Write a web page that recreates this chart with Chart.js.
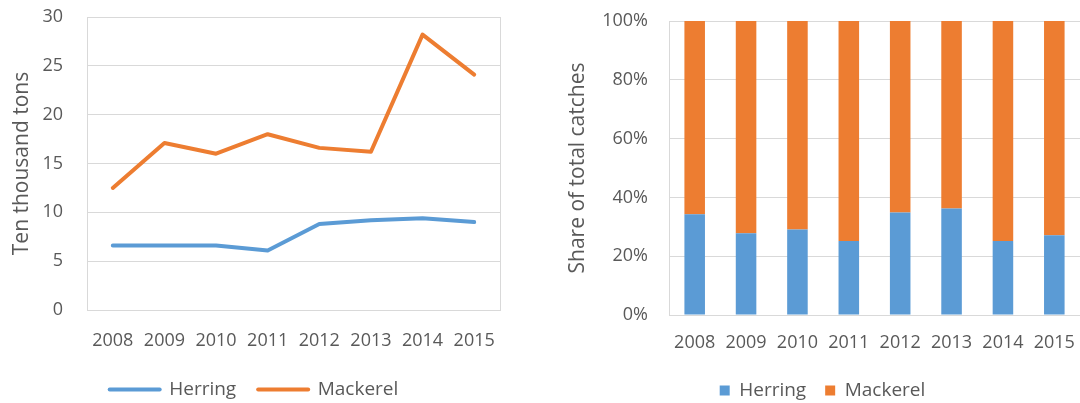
<!DOCTYPE html>
<html>
<head>
<meta charset="utf-8">
<script src="https://cdn.jsdelivr.net/npm/chart.js@4"></script>
<style>
  body { margin: 0; background: #fff; overflow: hidden; width: 1080px; height: 403px; position: relative; }
  #lineChart { position: absolute; left: 0; top: 0; }
  #shareChart { position: absolute; left: 540px; top: 0; }
</style>
</head>
<body>
<canvas id="lineChart" width="540" height="403"></canvas>
<canvas id="shareChart" width="540" height="403"></canvas>
<script>
// data
const years = ['2008', '2009', '2010', '2011', '2012', '2013', '2014', '2015'];
const herringCatch = [6.6, 6.6, 6.6, 6.1, 8.8, 9.2, 9.4, 9.0];
const mackerelCatch = [12.5, 17.1, 16.0, 18.0, 16.6, 16.2, 28.2, 24.1];
const herringShare = [34.3, 27.8, 29.1, 25.2, 34.9, 36.2, 25.2, 27.1];
const mackerelShare = [65.7, 72.2, 70.9, 74.8, 65.1, 63.8, 74.8, 72.9];

const BLUE = '#5B9BD5';
const ORANGE = '#ED7D31';
const GRID = '#D9D9D9';
const CLEAR = 'rgba(0,0,0,0)';

Chart.defaults.font.family = "'Open Sans', sans-serif";
Chart.defaults.font.size = 18;
Chart.defaults.color = '#595959';

// grey frame around the plot area, like the Excel plot area border
const plotFrame = {
  id: 'plotFrame',
  beforeDatasetsDraw(chart) {
    const { ctx, chartArea: a } = chart;
    ctx.save();
    ctx.strokeStyle = GRID;
    ctx.lineWidth = 1;
    ctx.strokeRect(Math.round(a.left) + 0.5, Math.round(a.top) + 0.5,
      Math.round(a.right - a.left), Math.round(a.bottom - a.top));
    ctx.restore();
  }
};

// legend for the line chart: thick coloured line samples
function lineLegendLabels(chart) {
  const items = Chart.defaults.plugins.legend.labels.generateLabels(chart);
  items.forEach((item) => {
    const ds = chart.data.datasets[item.datasetIndex];
    item.strokeStyle = ds.borderColor;
    item.fillStyle = ds.borderColor;
    item.lineWidth = 4;
    item.lineCap = 'round';
    item.pointStyle = 'line';
  });
  return items;
}

// tick gaps are done with invisible tick marks (ticks.padding would also pad the chart area)
new Chart(document.getElementById('lineChart'), {
  type: 'line',
  data: {
    labels: years,
    datasets: [
      { label: 'Herring', data: herringCatch, borderColor: BLUE, backgroundColor: BLUE, borderWidth: 4 },
      { label: 'Mackerel', data: mackerelCatch, borderColor: ORANGE, backgroundColor: ORANGE, borderWidth: 4 }
    ]
  },
  options: {
    responsive: false,
    animation: false,
    devicePixelRatio: 1,
    layout: { padding: { top: 17, right: 40, bottom: -6, left: 8 } },
    elements: {
      line: { tension: 0, borderJoinStyle: 'round', borderCapStyle: 'round' },
      point: { radius: 0, hoverRadius: 0 }
    },
    plugins: {
      legend: {
        position: 'bottom',
        labels: {
          usePointStyle: true,
          pointStyle: 'line',
          pointStyleWidth: 50,
          padding: 22,
          font: { size: 19 },
          generateLabels: lineLegendLabels
        }
      },
      tooltip: { enabled: false }
    },
    scales: {
      x: {
        offset: true,
        grid: { color: CLEAR, tickColor: CLEAR, drawTicks: true, tickLength: 20 },
        border: { display: false },
        ticks: { padding: 0, maxRotation: 0, autoSkip: false },
        afterFit(axis) { axis.height = 48; }
      },
      y: {
        min: 0,
        max: 30,
        ticks: { stepSize: 5, padding: 0 },
        grid: { color: GRID, tickColor: CLEAR, drawTicks: true, tickLength: 24 },
        border: { display: false },
        title: { display: true, text: 'Ten thousand tons', font: { size: 21 }, padding: { top: 1, bottom: 0 } },
        afterFit(axis) { axis.width = 79; }
      }
    }
  },
  plugins: [plotFrame]
});

new Chart(document.getElementById('shareChart'), {
  type: 'bar',
  data: {
    labels: years,
    datasets: [
      { label: 'Herring', data: herringShare, backgroundColor: BLUE },
      { label: 'Mackerel', data: mackerelShare, backgroundColor: ORANGE }
    ]
  },
  options: {
    responsive: false,
    animation: false,
    devicePixelRatio: 1,
    layout: { padding: { top: 21, right: 0, bottom: -7, left: 25 } },
    datasets: { bar: { categoryPercentage: 0.4, barPercentage: 1 } },
    plugins: {
      legend: {
        position: 'bottom',
        labels: { boxWidth: 10, boxHeight: 10, padding: 19, font: { size: 19 } }
      },
      tooltip: { enabled: false }
    },
    scales: {
      x: {
        stacked: true,
        grid: { color: CLEAR, tickColor: CLEAR, drawTicks: true, tickLength: 17 },
        border: { display: false },
        ticks: { padding: 0, maxRotation: 0, autoSkip: false },
        afterFit(axis) { axis.height = 47; }
      },
      y: {
        stacked: true,
        min: 0,
        max: 100,
        ticks: { stepSize: 20, padding: 0, callback: (v) => v + '%' },
        grid: { color: GRID, tickColor: CLEAR, drawTicks: true, tickLength: 21 },
        border: { display: false },
        title: { display: true, text: 'Share of total catches', font: { size: 21 }, padding: { top: 0, bottom: 0 } },
        afterFit(axis) { axis.width = 104; }
      }
    }
  },
  plugins: [plotFrame]
});
</script>
</body>
</html>
